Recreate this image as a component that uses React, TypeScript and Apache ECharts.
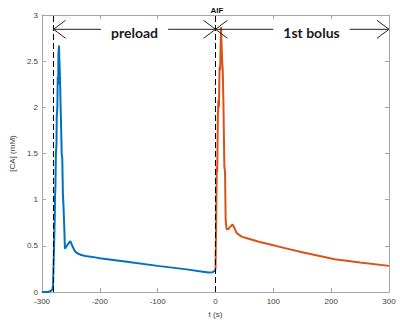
import React, { useEffect, useRef } from "react";
import * as echarts from "echarts";

// Preload bolus (blue)
const preloadT = [-300, -290, -285, -282, -281, -280, -279, -278, -277.5, -277, -276, -275, -274.5, -273.5, -272.8, -272, -271.6, -270.6, -270, -269.4, -268.5, -267.7, -267, -266, -265, -263.8, -263, -261.4, -260.4, -258, -255, -251, -247, -243, -239, -232, -225, -208, -200, -150, -100, -50, -22, -12, -5, -2, 0];
const preloadC = [0, 0, 0.01, 0.03, 0.07, 0.3, 0.55, 0.8, 1.05, 1.1, 1.5, 1.6, 1.9, 2.0, 2.33, 2.25, 2.58, 2.67, 2.5, 2.42, 2.2, 1.97, 1.8, 1.5, 1.45, 1.04, 0.95, 0.68, 0.47, 0.49, 0.52, 0.55, 0.49, 0.44, 0.42, 0.4, 0.39, 0.375, 0.366, 0.325, 0.283, 0.245, 0.22, 0.21, 0.215, 0.225, 0.24];

// 1st bolus (orange)
const bolusT = [0, 1, 2.2, 3, 4, 5, 6, 7, 8, 9.5, 10.7, 11.5, 12.5, 13.6, 14.5, 15.3, 16.5, 17.5, 18.5, 19.2, 22, 26, 29.5, 33, 36.3, 45, 56, 75, 93, 120, 150, 180, 206, 250, 300];
const bolusC = [0.24, 0.7, 1.36, 1.3, 1.9, 2.08, 2.0, 2.44, 2.4, 2.87, 2.87, 2.5, 2.4, 2.08, 1.7, 1.36, 1.3, 0.79, 0.72, 0.68, 0.68, 0.71, 0.73, 0.69, 0.64, 0.6, 0.58, 0.545, 0.517, 0.475, 0.43, 0.39, 0.355, 0.32, 0.283];

// Annotation arrows
const arrowFrom = [-280, 0];
const arrowTo = [0, 300];
const arrowLevel = [2.845, 2.845];
const arrowLabelAt = [-140, 166];
const arrowLabels = ["preload", "1st bolus"];

// Dashed markers
const markerT = [-280, 0];

const xTicks = [-300, -200, -100, 0, 100, 200, 300];
const yTicks = [0, 0.5, 1, 1.5, 2, 2.5, 3];

const AXIS_GRAY = "#a6a6a6";
const LABEL_FONT = "Liberation Sans";

export default function App() {
  const ref = useRef<HTMLDivElement>(null);
  useEffect(() => {
    if (!ref.current) return;
    const chart = echarts.init(ref.current, null, { renderer: "svg" });
    const xMin = xTicks[0], xMax = xTicks[xTicks.length - 1];
    const yMin = yTicks[0], yMax = yTicks[yTicks.length - 1];
    const commonX = {
      type: "value",
      min: xMin,
      max: xMax,
      interval: 100,
      splitLine: { show: false },
      axisLine: { show: true, onZero: false, lineStyle: { color: AXIS_GRAY, width: 1 } },
      axisTick: { show: true, inside: true, length: 4, lineStyle: { color: AXIS_GRAY } },
    };
    const commonY = {
      type: "value",
      min: yMin,
      max: yMax,
      interval: 0.5,
      splitLine: { show: false },
      axisLine: { show: true, onZero: false, lineStyle: { color: AXIS_GRAY, width: 1 } },
      axisTick: { show: true, inside: true, length: 4, lineStyle: { color: AXIS_GRAY } },
    };
    const arrowData = arrowFrom.map((f, i) => [f, arrowTo[i], arrowLevel[i], arrowLabelAt[i]]);
    chart.setOption({
      animation: false,
      backgroundColor: "#fff",
      title: {
        text: "AIF",
        left: 212,
        top: 1,
        textAlign: "center",
        textStyle: { fontSize: 8, fontWeight: "bold", color: "#111", fontFamily: "Liberation Sans" },
      },
      grid: { left: 36, right: 11, top: 15, bottom: 30, containLabel: false },
      xAxis: [
        {
          ...commonX,
          position: "bottom",
          name: "t (s)",
          nameLocation: "middle",
          nameGap: 18,
          nameTextStyle: { fontSize: 8, color: "#404040", fontFamily: LABEL_FONT },
          axisLabel: { fontSize: 8, color: "#404040", margin: 5, fontFamily: LABEL_FONT },
        },
        {
          ...commonX,
          position: "top",
          axisLabel: { show: false },
        },
      ],
      yAxis: [
        {
          ...commonY,
          position: "left",
          name: "[CA] (mM)",
          nameLocation: "middle",
          nameGap: 23,
          nameTextStyle: { fontSize: 8, color: "#404040", fontFamily: LABEL_FONT },
          axisLabel: { fontSize: 8, color: "#404040", margin: 4, fontFamily: LABEL_FONT },
        },
        {
          ...commonY,
          position: "right",
          axisLabel: { show: false },
        },
      ],
      series: [
        {
          type: "line",
          name: "preload",
          data: preloadT.map((t, i) => [t, preloadC[i]]),
          showSymbol: false,
          symbol: "none",
          lineStyle: { color: "#0072BD", width: 2 },
          z: 3,
          markLine: {
            silent: true,
            symbol: "none",
            label: { show: false },
            lineStyle: { color: "#000", width: 1, type: [6, 3] },
            data: markerT.map((t) => ({ xAxis: t })),
          },
        },
        {
          type: "line",
          name: "1st bolus",
          data: bolusT.map((t, i) => [t, bolusC[i]]),
          showSymbol: false,
          symbol: "none",
          lineStyle: { color: "#D95319", width: 2 },
          z: 3,
        },
        {
          type: "custom",
          coordinateSystem: "cartesian2d",
          clip: false,
          silent: true,
          z: 5,
          encode: { x: [0, 1, 3], y: 2 },
          data: arrowData,
          renderItem: (params: any, api: any) => {
            const p1 = api.coord([api.value(0), api.value(2)]);
            const p2 = api.coord([api.value(1), api.value(2)]);
            const pl = api.coord([api.value(3), api.value(2)]);
            const L = 12, W = 9;
            const stroke = { stroke: "#222", lineWidth: 1, fill: null };
            return {
              type: "group",
              children: [
                { type: "line", shape: { x1: p1[0], y1: p1[1], x2: p2[0], y2: p2[1] }, style: stroke },
                { type: "polyline", shape: { points: [[p1[0] + L, p1[1] - W], [p1[0], p1[1]], [p1[0] + L, p1[1] + W]] }, style: stroke },
                { type: "polyline", shape: { points: [[p2[0] - L, p2[1] - W], [p2[0], p2[1]], [p2[0] - L, p2[1] + W]] }, style: stroke },
                {
                  type: "text",
                  style: {
                    text: arrowLabels[params.dataIndex],
                    x: pl[0],
                    y: pl[1] + 3,
                    align: "center",
                    verticalAlign: "middle",
                    fontFamily: "Lato",
                    fontWeight: "bold",
                    fontSize: 14,
                    fill: "#1a1a1a",
                    backgroundColor: "#fff",
                    padding: [0, 10, 0, 10],
                  },
                },
              ],
            };
          },
        },
      ],
    });
    return () => chart.dispose();
  }, []);
  return (
    <div
      ref={ref}
      style={{ position: "fixed", left: 0, top: 0, width: 400, height: 323, background: "#fff" }}
    />
  );
}
